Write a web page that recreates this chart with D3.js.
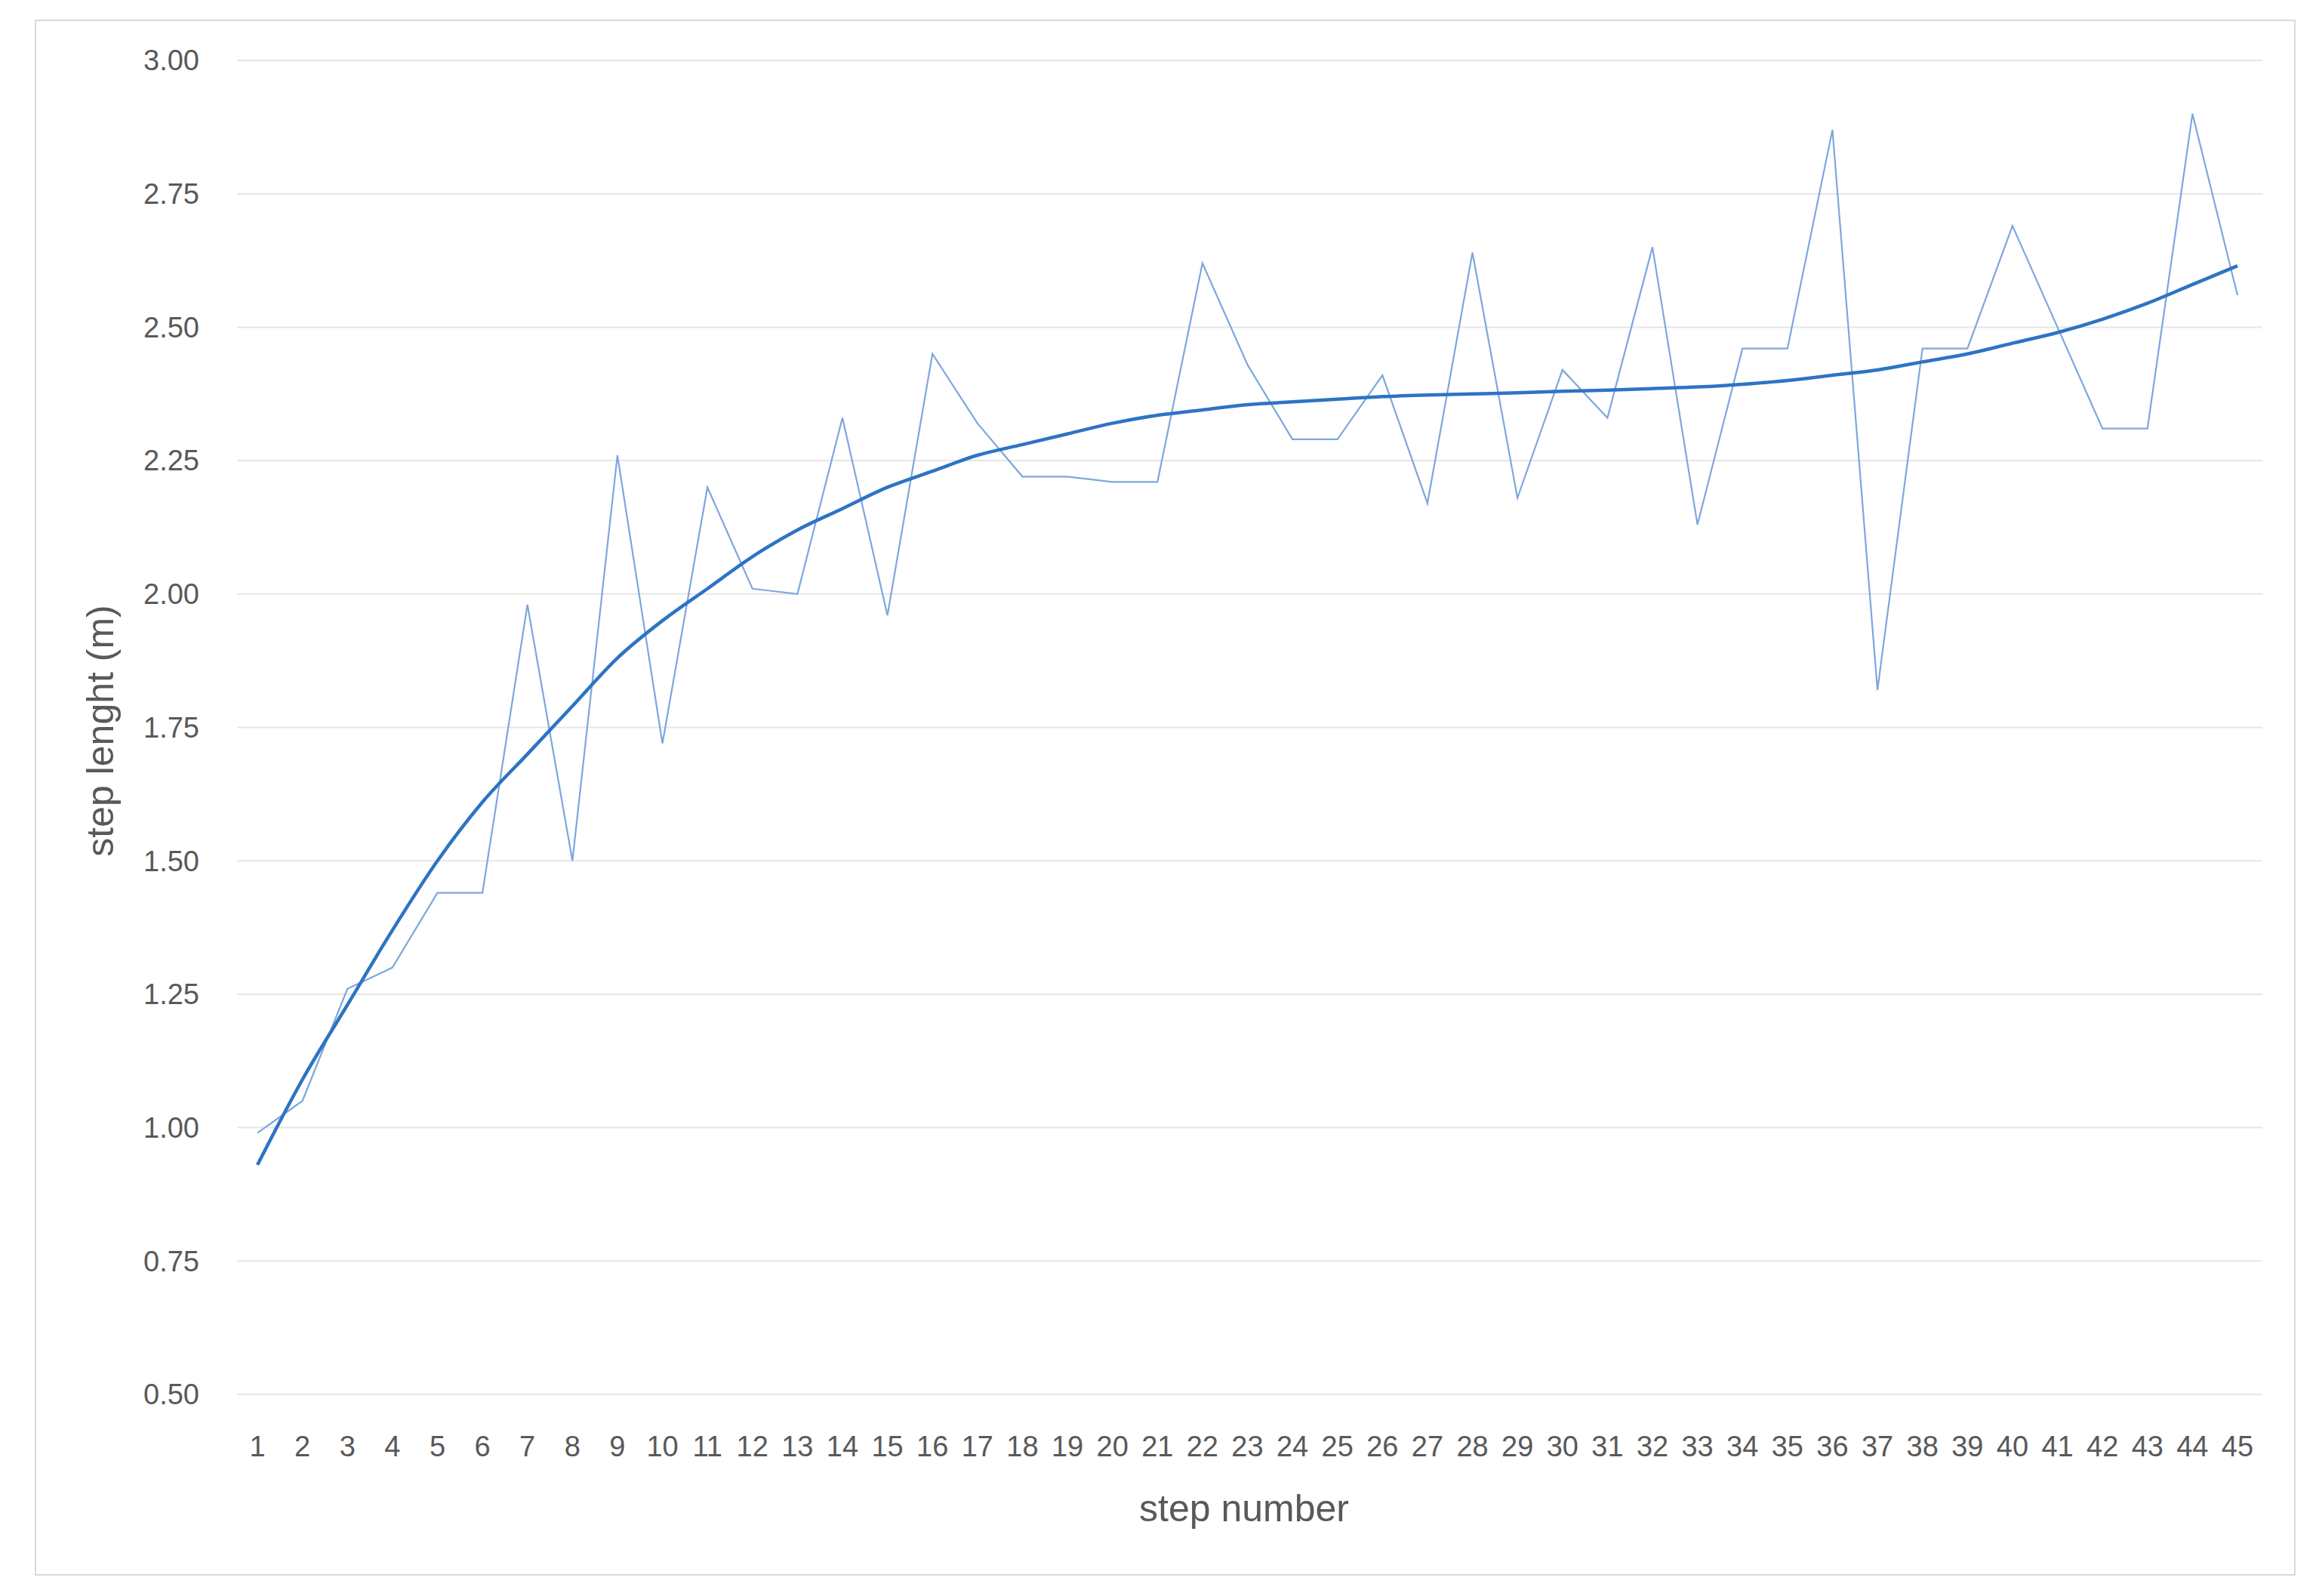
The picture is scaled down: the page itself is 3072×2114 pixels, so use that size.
<!DOCTYPE html>
<html><head><meta charset="utf-8">
<script src="https://cdn.jsdelivr.net/npm/d3@7"></script>
<style>body{margin:0;background:#fff}svg{display:block}</style>
</head><body>
<script>
const steps = d3.range(1, 46);
const rawValues = [0.99,1.05,1.26,1.30,1.44,1.44,1.98,1.50,2.26,1.72,2.20,2.01,2.00,2.33,1.96,2.45,2.32,2.22,2.22,2.21,2.21,2.62,2.43,2.29,2.29,2.41,2.17,2.64,2.18,2.42,2.33,2.65,2.13,2.46,2.46,2.87,1.82,2.46,2.46,2.69,2.50,2.31,2.31,2.90,2.56];
const trendValues = [0.93,1.09,1.23,1.37,1.50,1.61,1.70,1.79,1.88,1.95,2.01,2.07,2.12,2.16,2.20,2.23,2.26,2.28,2.30,2.32,2.335,2.345,2.355,2.36,2.365,2.37,2.373,2.375,2.377,2.38,2.382,2.385,2.388,2.393,2.40,2.41,2.42,2.435,2.45,2.47,2.49,2.515,2.545,2.58,2.615];
const yTicks = [0.5,0.75,1.0,1.25,1.5,1.75,2.0,2.25,2.5,2.75,3.0];

const W=3072,H=2114;
const svg=d3.select("body").append("svg").attr("width",W).attr("height",H);
svg.append("rect").attr("x",47).attr("y",27).attr("width",2993).attr("height",2059).attr("fill","#fff").attr("stroke","#d9d9d9").attr("stroke-width",2);
const x=d3.scalePoint().domain(steps).range([341,2964]);
const y=d3.scaleLinear().domain([0.5,3.0]).range([1847,80]);
const gl=314, gr=2997;
const font="'Liberation Sans', Arial, sans-serif";
svg.append("g").selectAll("line").data(yTicks).join("line")
 .attr("x1",gl).attr("x2",gr).attr("y1",d=>y(d)).attr("y2",d=>y(d))
 .attr("stroke","#e6e6e6").attr("stroke-width",2);
svg.append("g").selectAll("text").data(yTicks).join("text")
 .attr("x",264).attr("y",d=>y(d)).attr("dy","0.35em").attr("text-anchor","end")
 .attr("font-family",font).attr("font-size",38).attr("fill","#595959").text(d=>d.toFixed(2));
svg.append("g").selectAll("text").data(steps).join("text")
 .attr("x",d=>x(d)).attr("y",1929).attr("text-anchor","middle")
 .attr("font-family",font).attr("font-size",38).attr("fill","#595959").text(d=>d);
const line=d3.line().x((d,i)=>x(steps[i])).y(d=>y(d));
svg.append("path").datum(rawValues).attr("d",line).attr("fill","none").attr("stroke","#7EA6DE").attr("stroke-width",2.2);
svg.append("path").datum(trendValues).attr("d",line.curve(d3.curveMonotoneX)).attr("fill","none").attr("stroke","#2E73C4").attr("stroke-width",4.5);
svg.append("text").attr("x",1648).attr("y",2015).attr("text-anchor","middle")
 .attr("font-family",font).attr("font-size",50).attr("fill","#595959").text("step number");
svg.append("text").attr("transform","translate(150,968) rotate(-90)").attr("text-anchor","middle")
 .attr("font-family",font).attr("font-size",50).attr("fill","#595959").text("step lenght (m)");
</script>
</body></html>
